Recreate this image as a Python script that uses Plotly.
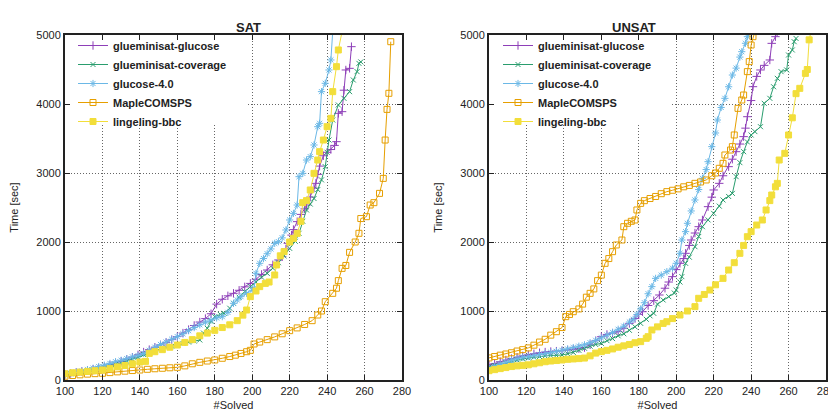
import plotly.graph_objects as go

# ---------------- DATA ----------------
series_names = ["glueminisat-glucose", "glueminisat-coverage", "glucose-4.0", "MapleCOMSPS", "lingeling-bbc"]

# SAT panel (#solved, time)
sat_gg_n = [100,103,106,109,112,115,118,121,124,127,130,133,136,139,142,145,148,151,154,157,160,163,166,169,172,175,178,181,184,187,190,193,196,199,202,205,208,211,214,216,218,219,221,222,224,226,228,229,231,233,234,235,236,238,240,242,244,245,246,248,249,250,252,253]
sat_gg_t = [80,95,110,125,140,155,170,190,215,245,270,300,330,365,405,440,475,510,545,585,630,680,730,790,840,890,960,1100,1170,1220,1256,1300,1350,1400,1460,1530,1594,1670,1740,1787,1900,1981,2100,2180,2295,2400,2480,2536,2650,2780,2850,2980,3100,3250,3300,3340,3400,3454,3865,3889,4200,4493,4517,4831]

sat_gc_n = [100,103,106,109,112,115,118,121,124,127,130,133,136,139,142,145,148,151,154,157,160,163,166,169,172,174,176,178,180,183,185,188,190,193,196,199,202,205,208,211,214,217,220,223,225,227,229,231,233,235,237,239,240,241,243,246,249,252,254,256,257,258]
sat_gc_t = [75,90,105,120,135,150,165,185,205,225,245,270,300,330,370,400,430,450,470,490,510,530,550,565,580,680,750,850,918,950,966,1040,1111,1200,1280,1353,1420,1490,1546,1620,1700,1800,1908,2010,2126,2300,2464,2550,2630,2760,2900,3092,3300,3478,3768,3986,4082,4179,4348,4469,4589,4610]

sat_gl_n = [100,103,106,109,112,115,118,121,124,127,130,133,136,139,142,145,148,151,154,157,160,163,166,169,172,175,178,181,184,187,190,192,194,197,200,201,202,204,206,208,210,212,214,216,218,220,222,224,225,227,229,231,233,235,236,237,239,241,242,243]
sat_gl_t = [85,100,115,130,150,170,195,215,240,265,285,310,335,355,385,430,475,515,550,590,628,670,715,760,800,840,870,900,918,980,1111,1160,1208,1256,1300,1330,1546,1691,1760,1830,1900,1980,2005,2060,2174,2319,2415,2536,2947,2995,3188,3237,3406,3671,3720,4179,4300,4493,4638,5050]

sat_mp_n = [100,104,108,112,116,120,124,128,132,136,140,144,148,152,156,160,164,168,172,176,180,184,188,191,194,197,199,201,204,208,212,216,220,224,228,232,235,237,239,243,245,246,248,250,252,255,257,258,261,263,265,268,270,271,272,273,274]
sat_mp_t = [55,65,75,85,92,97,107,118,128,137,145,155,163,170,177,184,205,235,256,275,290,315,340,360,385,410,430,522,550,585,625,670,715,755,805,860,942,1000,1135,1256,1330,1440,1618,1660,1850,2000,2126,2340,2367,2536,2570,2705,2922,3478,3922,4155,4903]

sat_lb_n = [100,104,108,112,116,120,124,128,132,136,140,143,145,148,152,156,160,164,168,172,176,180,184,188,192,195,197,199,202,204,207,209,212,213,215,217,220,222,224,226,227,229,231,233,235,236,238,240,242,243,245,246,248]
sat_lb_t = [90,105,115,125,135,145,165,190,210,235,260,270,386,410,440,475,507,545,585,640,680,720,760,800,860,940,1014,1208,1290,1353,1400,1420,1522,1667,1800,1860,2000,2053,2125,2300,2570,2600,2754,2995,3188,3309,3478,3671,3792,4179,4541,4783,5050]

# UNSAT panel (#solved, time)
uns_gg_n = [100,103,106,109,112,115,118,121,124,127,130,133,136,139,142,145,148,151,154,157,160,163,166,169,172,175,178,180,182,185,188,191,194,196,198,200,202,204,205,207,208,210,212,214,217,219,220,223,225,228,230,232,234,236,237,238,240,241,243,245,247,250,251,253,254]
uns_gg_t = [217,240,265,290,310,330,350,365,380,395,405,412,418,425,435,445,455,470,510,570,628,660,680,700,750,820,890,950,990,1080,1150,1232,1330,1420,1498,1600,1691,1760,1836,1950,2029,2130,2222,2319,2512,2650,2754,2850,2960,3092,3200,3309,3420,3527,3650,3816,4050,4251,4400,4493,4560,4638,4879,4976,5050]

uns_gc_n = [100,103,106,109,112,115,118,121,124,127,130,133,136,139,142,145,148,151,154,157,160,163,166,169,172,175,178,181,184,186,188,190,193,196,199,200,202,203,205,207,210,212,214,217,220,223,225,228,230,232,234,236,238,240,242,245,247,250,252,254,256,259,260,262,263,264]
uns_gc_t = [190,210,230,255,275,290,305,318,330,340,348,355,358,362,380,400,430,460,490,515,531,570,600,640,670,720,770,821,880,930,966,1100,1160,1208,1260,1304,1420,1498,1691,1780,1932,2080,2222,2320,2415,2520,2609,2660,2705,2947,3150,3309,3450,3551,3600,3671,4010,4082,4250,4372,4469,4493,4710,4783,4903,4950]

uns_gl_n = [100,103,106,109,112,115,118,121,124,127,130,133,136,139,142,145,148,151,154,157,160,163,166,169,172,175,177,179,181,183,185,187,189,192,195,198,200,202,203,205,206,208,210,212,214,216,217,219,221,222,224,226,228,230,232,234,235,237,238,239]
uns_gl_t = [170,200,230,260,290,310,330,340,355,370,385,400,415,430,450,470,490,510,540,575,610,650,690,735,780,840,880,950,1030,1120,1250,1353,1473,1520,1570,1620,1691,1836,2029,2150,2271,2450,2609,2760,2923,3050,3164,3382,3580,3768,3950,4082,4250,4420,4520,4680,4758,4880,4976,5050]

uns_mp_n = [100,103,106,109,112,115,118,121,124,127,130,133,136,139,141,143,145,148,150,152,154,156,158,160,162,164,166,168,171,172,174,176,178,179,181,183,186,189,192,195,198,201,204,207,210,213,216,219,221,223,225,226,229,230,231,233,235,236,238,239,240,241,242]
uns_mp_t = [320,340,360,377,395,420,440,465,505,550,590,650,700,760,918,950,990,1030,1100,1200,1256,1320,1440,1520,1691,1760,1860,1957,2029,2222,2271,2300,2319,2464,2560,2599,2630,2660,2700,2730,2750,2770,2800,2820,2850,2870,2899,2960,3000,3068,3140,3261,3333,3382,3551,3937,4058,4130,4469,4614,4855,4976,5050]

uns_lb_n = [100,103,106,109,112,115,118,121,124,127,130,133,136,139,142,145,148,151,154,157,160,163,166,169,172,175,178,181,184,185,187,190,193,195,198,202,206,210,212,215,218,221,225,228,231,234,236,238,240,243,246,248,250,251,253,254,255,258,260,262,264,266,269,270,271,272]
uns_lb_t = [135,150,165,180,195,205,212,220,235,250,265,275,282,290,300,305,310,318,350,390,411,430,450,475,495,515,540,556,604,628,725,770,820,845,890,942,1000,1063,1184,1240,1304,1380,1473,1594,1700,1836,1950,2077,2150,2246,2319,2464,2600,2681,2800,2850,3188,3285,3551,3800,4150,4227,4444,4500,4930,5050]

x_ticks = [100, 120, 140, 160, 180, 200, 220, 240, 260, 280]
y_ticks = [0, 1000, 2000, 3000, 4000, 5000]
panel_titles = ["SAT", "UNSAT"]

# ---------------- STYLE ----------------
colors = ["#8e3fb8", "#2a9d6e", "#6bb8e6", "#e69f00", "#f2de3a"]
symbols = ["cross-thin", "x-thin", "asterisk", "square-open", "square"]
msizes = [6, 5, 6, 6, 6]
FONT = "Liberation Sans, Arial, sans-serif"

sat = [(sat_gg_n, sat_gg_t), (sat_gc_n, sat_gc_t), (sat_gl_n, sat_gl_t), (sat_mp_n, sat_mp_t), (sat_lb_n, sat_lb_t)]
uns = [(uns_gg_n, uns_gg_t), (uns_gc_n, uns_gc_t), (uns_gl_n, uns_gl_t), (uns_mp_n, uns_mp_t), (uns_lb_n, uns_lb_t)]

fig = go.Figure()
for panel, (data, xa, ya, lg) in enumerate([(sat, "x", "y", "legend"), (uns, "x2", "y2", "legend2")]):
    for i, (nn, tt) in enumerate(data):
        fig.add_trace(go.Scatter(
            x=nn, y=tt, name=series_names[i], mode="lines+markers",
            xaxis=xa, yaxis=ya, legend=lg,
            line=dict(color=colors[i], width=1),
            marker=dict(symbol=symbols[i], size=msizes[i], color=colors[i],
                        line=dict(color=colors[i], width=1)),
        ))

# page body has an 8px margin: figure is 8px smaller and all positions shifted by 8px
OFF = 8
W, H = 836 - OFF, 414 - OFF


def px(x):
    return (x - OFF) / W


def py(y):
    return 1 - (y - OFF) / H


xdom1 = [px(65), px(402)]
xdom2 = [px(489), px(826)]
ydom = [py(380), py(35)]

axis_common = dict(
    showline=True, linecolor="#222", linewidth=2, mirror="allticks",
    ticks="inside", ticklen=5, tickcolor="#222", tickwidth=1,
    showgrid=True, gridcolor="#666", griddash="1px,2px", gridwidth=1,
    zeroline=False, automargin=False,
    tickfont=dict(family=FONT, size=11, color="#222"),
)

fig.update_layout(
    width=W, height=H,
    margin=dict(l=0, r=0, t=0, b=0, autoexpand=False),
    paper_bgcolor="white", plot_bgcolor="white",
    font=dict(family=FONT, size=11, color="#222"),
    xaxis=dict(domain=xdom1, anchor="y", range=[100, 280], tickvals=x_ticks,
               title=dict(text="#Solved", font=dict(family=FONT, size=11), standoff=5), **axis_common),
    yaxis=dict(domain=ydom, anchor="x", range=[0, 5000], tickvals=y_ticks,
               title=dict(text="Time [sec]", font=dict(family=FONT, size=11), standoff=15), **axis_common),
    xaxis2=dict(domain=xdom2, anchor="y2", range=[100, 280], tickvals=x_ticks,
                title=dict(text="#Solved", font=dict(family=FONT, size=11), standoff=5), **axis_common),
    yaxis2=dict(domain=ydom, anchor="x2", range=[0, 5000], tickvals=y_ticks,
                title=dict(text="Time [sec]", font=dict(family=FONT, size=11), standoff=15), **axis_common),
    legend=dict(x=px(73), y=py(31), xanchor="left", yanchor="top", bgcolor="rgba(0,0,0,0)",
                font=dict(family=FONT, size=11, weight="bold", color="#222"), tracegroupgap=0),
    legend2=dict(x=px(498), y=py(31), xanchor="left", yanchor="top", bgcolor="rgba(0,0,0,0)",
                 font=dict(family=FONT, size=11, weight="bold", color="#222"), tracegroupgap=0),
    showlegend=True,
)

# white key box hiding the grid behind the legend (between grid and traces)
for xr, yr in [("x", "y"), ("x2", "y2")]:
    fig.add_shape(type="rect", xref=xr, yref=yr, x0=100, x1=197, y0=3700, y1=5000,
                  fillcolor="white", line=dict(width=0), layer="between")

for k, title in enumerate(panel_titles):
    dom = xdom1 if k == 0 else xdom2
    fig.add_annotation(text="<b>" + title + "</b>", x=(dom[0] + dom[1]) / 2, y=py(18),
                       xref="paper", yref="paper", showarrow=False,
                       font=dict(family=FONT, size=13, color="#222"))

fig.write_html("out.html")
